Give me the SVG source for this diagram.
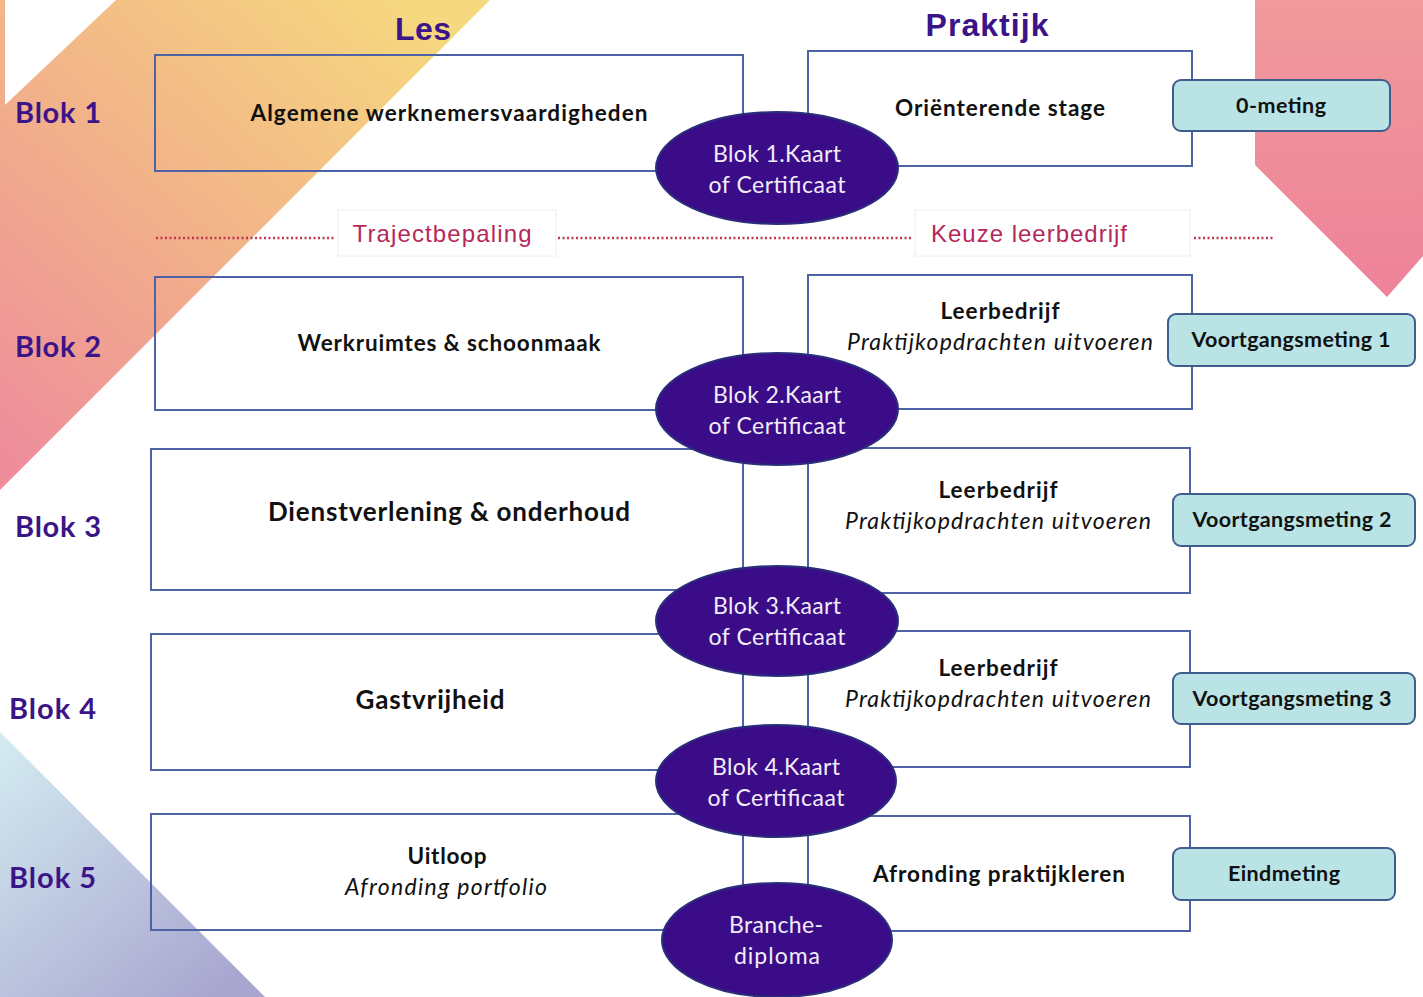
<svg xmlns="http://www.w3.org/2000/svg" width="1423" height="997" viewBox="0 0 1423 997">
<style>
.box{fill:none;stroke:#4d63a6;stroke-width:2}
.ell{fill:#3a0c88;stroke:#2a2f7a;stroke-width:2}
.teal{fill:#b9e3e5;stroke:#3f5e8e;stroke-width:2}
.lbl{fill:#ffffff;stroke:#eeeeee;stroke-width:1}
.dot{stroke:#c23450;stroke-width:2.5;stroke-dasharray:2 2.5;fill:none}
.t{font-family:Lato,"Open Sans","Liberation Sans",sans-serif;font-weight:bold;fill:#111;text-anchor:middle}
.ti{font-family:Lato,"Open Sans","Liberation Sans",sans-serif;font-style:italic;fill:#111;text-anchor:middle}
.et{font-family:Lato,"Open Sans","Liberation Sans",sans-serif;fill:#f3ecf8;text-anchor:middle;font-size:23px}
.blk{font-family:Lato,"Open Sans","Liberation Sans",sans-serif;font-weight:bold;fill:#3b1488;font-size:29px}
.hd{font-family:"Liberation Sans",Arial,sans-serif;font-weight:bold;fill:#3b1488;font-size:32px;text-anchor:middle}
.mid{font-family:"Liberation Sans",Arial,sans-serif;fill:#b5285a;font-size:24px;text-anchor:middle}
.tt{font-family:Lato,"Open Sans","Liberation Sans",sans-serif;font-weight:bold;fill:#111;text-anchor:middle;font-size:21.5px}
</style>
<defs>
<linearGradient id="gOr" gradientUnits="userSpaceOnUse" x1="420" y1="0" x2="0" y2="460">
<stop offset="0" stop-color="#f6d97e"/>
<stop offset="0.5" stop-color="#f2b389"/>
<stop offset="1" stop-color="#ee8c9c"/>
</linearGradient>
<linearGradient id="gPk" gradientUnits="userSpaceOnUse" x1="1340" y1="0" x2="1340" y2="297">
<stop offset="0" stop-color="#f09a9c"/>
<stop offset="1" stop-color="#ee8299"/>
</linearGradient>
<linearGradient id="gBl" gradientUnits="userSpaceOnUse" x1="0" y1="740" x2="220" y2="997">
<stop offset="0" stop-color="#d3ebf1"/>
<stop offset="1" stop-color="#a8a5cf"/>
</linearGradient>
</defs>
<rect width="1423" height="997" fill="#ffffff"/>
<g id="background">
<polygon points="0,0 490,0 0,490" fill="url(#gOr)"/>
<polygon points="5,0 116,0 5,105" fill="#ffffff"/>
<polygon points="1255,0 1423,0 1423,256 1387,297 1255,165" fill="url(#gPk)"/>
<polygon points="0,732 265,997 0,997" fill="url(#gBl)"/>
</g>
<g id="headers">
<text class="hd" x="423" y="40" textLength="56">Les</text>
<text class="hd" x="987" y="36" textLength="123">Praktijk</text>
</g>
<g id="blok-labels">
<text class="blk" x="15" y="123" textLength="86">Blok 1</text>
<text class="blk" x="15" y="357" textLength="86">Blok 2</text>
<text class="blk" x="15" y="537" textLength="86">Blok 3</text>
<text class="blk" x="9" y="719" textLength="87">Blok 4</text>
<text class="blk" x="9" y="888" textLength="87">Blok 5</text>
</g>
<g id="connectors">
<line class="dot" x1="156" y1="238" x2="335" y2="238"/>
<line class="dot" x1="558" y1="238" x2="913" y2="238"/>
<line class="dot" x1="1194" y1="238" x2="1275" y2="238"/>
</g>
<g id="phase-labels">
<rect class="lbl" x="338" y="210" width="218" height="46"/>
<text class="mid" x="442" y="242" textLength="179">Trajectbepaling</text>
<rect class="lbl" x="915" y="210" width="275" height="46"/>
<text class="mid" x="1029" y="242" textLength="196">Keuze leerbedrijf</text>
</g>
<g id="les1"><rect class="box" x="155" y="55" width="588" height="116"/>
<text class="t" x="449" y="121" font-size="22.5" textLength="397">Algemene werknemersvaardigheden</text></g>
<g id="les2"><rect class="box" x="155" y="277" width="588" height="133"/>
<text class="t" x="449" y="351" font-size="22.5" textLength="303">Werkruimtes &amp; schoonmaak</text></g>
<g id="les3"><rect class="box" x="151" y="449" width="592" height="141"/>
<text class="t" x="449" y="521" font-size="26" textLength="362">Dienstverlening &amp; onderhoud</text></g>
<g id="les4"><rect class="box" x="151" y="634" width="592" height="136"/>
<text class="t" x="430" y="709" font-size="26" textLength="149">Gastvrijheid</text></g>
<g id="les5"><rect class="box" x="151" y="814" width="592" height="116"/>
<text class="t" x="447" y="864" font-size="22.5" textLength="79">Uitloop</text>
<text class="ti" x="446" y="895" font-size="23" textLength="202">Afronding portfolio</text></g>
<g id="pr1"><rect class="box" x="808" y="51" width="384" height="115"/>
<text class="t" x="1000" y="116" font-size="22.5" textLength="210">Oriënterende stage</text></g>
<g id="pr2"><rect class="box" x="808" y="275" width="384" height="134"/>
<text class="t" x="1000" y="319" font-size="22.5" textLength="119">Leerbedrijf</text>
<text class="ti" x="1000" y="350" font-size="23" textLength="306">Praktijkopdrachten uitvoeren</text></g>
<g id="pr3"><rect class="box" x="808" y="448" width="382" height="145"/>
<text class="t" x="998" y="498" font-size="22.5" textLength="119">Leerbedrijf</text>
<text class="ti" x="998" y="529" font-size="23" textLength="306">Praktijkopdrachten uitvoeren</text></g>
<g id="pr4"><rect class="box" x="808" y="631" width="382" height="136"/>
<text class="t" x="998" y="676" font-size="22.5" textLength="119">Leerbedrijf</text>
<text class="ti" x="998" y="707" font-size="23" textLength="306">Praktijkopdrachten uitvoeren</text></g>
<g id="pr5"><rect class="box" x="808" y="816" width="382" height="115"/>
<text class="t" x="999" y="882" font-size="22.5" textLength="252">Afronding praktijkleren</text></g>
<g id="cert1"><ellipse class="ell" cx="777" cy="168" rx="121" ry="56"/>
<text class="et" x="777" y="162" textLength="128">Blok 1.Kaart</text>
<text class="et" x="777" y="193" textLength="137">of Certificaat</text></g>
<g id="cert2"><ellipse class="ell" cx="777" cy="409" rx="121" ry="56"/>
<text class="et" x="777" y="403" textLength="128">Blok 2.Kaart</text>
<text class="et" x="777" y="434" textLength="137">of Certificaat</text></g>
<g id="cert3"><ellipse class="ell" cx="777" cy="621" rx="121" ry="55"/>
<text class="et" x="777" y="614" textLength="128">Blok 3.Kaart</text>
<text class="et" x="777" y="645" textLength="137">of Certificaat</text></g>
<g id="cert4"><ellipse class="ell" cx="776" cy="781" rx="120" ry="56"/>
<text class="et" x="776" y="775" textLength="128">Blok 4.Kaart</text>
<text class="et" x="776" y="806" textLength="137">of Certificaat</text></g>
<g id="diploma"><ellipse class="ell" cx="777" cy="940" rx="115" ry="57"/>
<text class="et" x="776" y="933" textLength="94">Branche-</text>
<text class="et" x="777" y="964" textLength="86">diploma</text></g>
<g id="m0"><rect class="teal" x="1173" y="80" width="217" height="51" rx="8"/>
<text class="tt" x="1281" y="113" textLength="90">0-meting</text></g>
<g id="m1"><rect class="teal" x="1168" y="314" width="247" height="52" rx="8"/>
<text class="tt" x="1291" y="347" textLength="199">Voortgangsmeting 1</text></g>
<g id="m2"><rect class="teal" x="1173" y="494" width="242" height="52" rx="8"/>
<text class="tt" x="1292" y="527" textLength="199">Voortgangsmeting 2</text></g>
<g id="m3"><rect class="teal" x="1173" y="673" width="242" height="51" rx="8"/>
<text class="tt" x="1292" y="706" textLength="199">Voortgangsmeting 3</text></g>
<g id="meind"><rect class="teal" x="1173" y="848" width="222" height="52" rx="8"/>
<text class="tt" x="1284" y="881" textLength="112">Eindmeting</text></g>
</svg>
